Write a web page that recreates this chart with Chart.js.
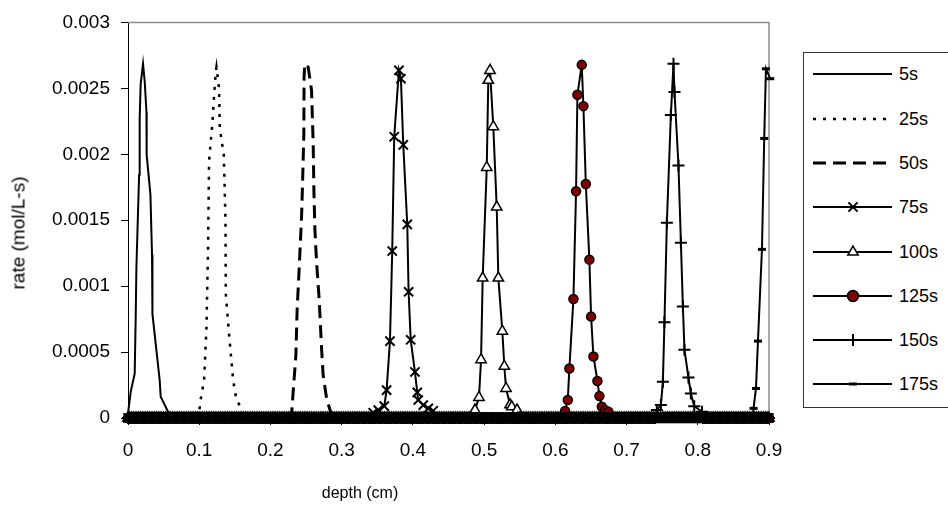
<!DOCTYPE html>
<html>
<head>
<meta charset="utf-8">
<script src="https://cdn.jsdelivr.net/npm/chart.js@4.4.1/dist/chart.umd.min.js"></script>
<style>
  html, body { margin: 0; padding: 0; background: #fff; }
  #wrap { position: relative; width: 948px; height: 506px; overflow: hidden; font-family: "Liberation Sans", Arial, sans-serif; color: #000; }
  #chart { position: absolute; left: 0; top: 0; }
  .axisTitle { position: absolute; white-space: nowrap; line-height: 1; }
  #xTitle { left: 360px; top: 493px; font-size: 16px; transform: translate(-50%, -50%); }
  #yTitle { left: 18px; top: 233px; font-size: 19px; transform: translate(-50%, -50%) rotate(-90deg); }
  #legend { position: absolute; left: 803px; top: 52px; width: 160px; height: 356px; border: 1px solid #333; box-sizing: border-box; background: #fff; }
  .row { position: absolute; left: 0; height: 20px; }
  .row svg { position: absolute; left: 8px; top: 0; }
  .row span { position: absolute; left: 95px; top: 10px; transform: translateY(-50%); font-size: 18px; white-space: nowrap; }
</style>
</head>
<body>
<div id="wrap">
  <canvas id="chart" width="948" height="506"></canvas>
  <div id="xTitle" class="axisTitle">depth (cm)</div>
  <div id="yTitle" class="axisTitle">rate (mol/L-s)</div>
  <div id="legend"></div>
</div>
<script>
// depths (cm) of the mesh; every profile sits on zero there outside its peak
const depthGrid = [
  0, 0.0025, 0.005, 0.0075, 0.01, 0.0125, 0.015, 0.0175, 0.02, 0.0225, 0.025, 0.0275, 0.03, 0.0325, 0.035, 0.0375, 0.04, 0.0425, 0.045, 0.0475,
  0.05, 0.0525, 0.055, 0.0575, 0.06, 0.0625, 0.065, 0.0675, 0.07, 0.0725, 0.075, 0.0775, 0.08, 0.0825, 0.085, 0.0875, 0.09, 0.0925, 0.095, 0.0975,
  0.1, 0.1025, 0.105, 0.1075, 0.11, 0.1125, 0.115, 0.1175, 0.12, 0.1225, 0.125, 0.1275, 0.13, 0.1325, 0.135, 0.1375, 0.14, 0.1425, 0.145, 0.1475,
  0.15, 0.1525, 0.155, 0.1575, 0.16, 0.1625, 0.165, 0.1675, 0.17, 0.1725, 0.175, 0.1775, 0.18, 0.1825, 0.185, 0.1875, 0.19, 0.1925, 0.195, 0.1975,
  0.2, 0.2025, 0.205, 0.2075, 0.21, 0.2125, 0.215, 0.2175, 0.22, 0.2225, 0.225, 0.2275, 0.23, 0.2325, 0.235, 0.2375, 0.24, 0.2425, 0.245, 0.2475,
  0.25, 0.2525, 0.255, 0.2575, 0.26, 0.2625, 0.265, 0.2675, 0.27, 0.2725, 0.275, 0.2775, 0.28, 0.2825, 0.285, 0.2875, 0.29, 0.2925, 0.295, 0.2975,
  0.3, 0.3025, 0.305, 0.3075, 0.31, 0.3125, 0.315, 0.3175, 0.32, 0.3225, 0.325, 0.3275, 0.33, 0.3325, 0.335, 0.3375, 0.34, 0.3425, 0.345, 0.3475,
  0.35, 0.3525, 0.355, 0.3575, 0.36, 0.3625, 0.365, 0.3675, 0.37, 0.3725, 0.375, 0.3775, 0.38, 0.3825, 0.385, 0.3875, 0.39, 0.3925, 0.395, 0.3975,
  0.4, 0.4025, 0.405, 0.4075, 0.41, 0.4125, 0.415, 0.4175, 0.42, 0.4225, 0.425, 0.4275, 0.43, 0.4325, 0.435, 0.4375, 0.44, 0.4425, 0.445, 0.4475,
  0.45, 0.4525, 0.455, 0.4575, 0.46, 0.4625, 0.465, 0.4675, 0.47, 0.4725, 0.475, 0.4775, 0.48, 0.4825, 0.485, 0.4875, 0.49, 0.4925, 0.495, 0.4975,
  0.5, 0.5025, 0.505, 0.5075, 0.51, 0.5125, 0.515, 0.5175, 0.52, 0.5225, 0.525, 0.5275, 0.53, 0.5325, 0.535, 0.5375, 0.54, 0.5425, 0.545, 0.5475,
  0.55, 0.5525, 0.555, 0.5575, 0.56, 0.5625, 0.565, 0.5675, 0.57, 0.5725, 0.575, 0.5775, 0.58, 0.5825, 0.585, 0.5875, 0.59, 0.5925, 0.595, 0.5975,
  0.6, 0.6025, 0.605, 0.6075, 0.61, 0.6125, 0.615, 0.6175, 0.62, 0.6225, 0.625, 0.6275, 0.63, 0.6325, 0.635, 0.6375, 0.64, 0.6425, 0.645, 0.6475,
  0.65, 0.6525, 0.655, 0.6575, 0.66, 0.6625, 0.665, 0.6675, 0.67, 0.6725, 0.675, 0.6775, 0.68, 0.6825, 0.685, 0.6875, 0.69, 0.6925, 0.695, 0.6975,
  0.7, 0.7025, 0.705, 0.7075, 0.71, 0.7125, 0.715, 0.7175, 0.72, 0.7225, 0.725, 0.7275, 0.73, 0.7325, 0.735, 0.7375, 0.74, 0.7425, 0.745, 0.7475,
  0.75, 0.7525, 0.755, 0.7575, 0.76, 0.7625, 0.765, 0.7675, 0.77, 0.7725, 0.775, 0.7775, 0.78, 0.7825, 0.785, 0.7875, 0.79, 0.7925, 0.795, 0.7975,
  0.8, 0.8025, 0.805, 0.8075, 0.81, 0.8125, 0.815, 0.8175, 0.82, 0.8225, 0.825, 0.8275, 0.83, 0.8325, 0.835, 0.8375, 0.84, 0.8425, 0.845, 0.8475,
  0.85, 0.8525, 0.855, 0.8575, 0.86, 0.8625, 0.865, 0.8675, 0.87, 0.8725, 0.875, 0.8775, 0.88, 0.8825, 0.885, 0.8875, 0.89, 0.8925, 0.895, 0.8975,
  0.9
];

// peak of each profile
const depth5s = [0, 0.0038, 0.0094, 0.0108, 0.0118, 0.0156, 0.0164, 0.0178, 0.0211, 0.0235, 0.0259, 0.0262, 0.0315, 0.0337, 0.0343, 0.0399, 0.0445, 0.0459, 0.0563];
const rate5s = [0.000035, 0.000198, 0.000337, 0.000764, 0.00114, 0.001844, 0.002271, 0.002535, 0.002686, 0.002548, 0.002322, 0.001995, 0.001694, 0.001241, 0.000789, 0.000513, 0.000286, 0.000161, 0.000047];

const depth25s = [0.101, 0.1068, 0.1102, 0.1124, 0.1138, 0.1186, 0.1209, 0.1232, 0.1242, 0.1279, 0.1289, 0.1345, 0.1369, 0.1373, 0.1419, 0.1476, 0.1523, 0.1594];
const rate25s = [0.000111, 0.000286, 0.000688, 0.001291, 0.001945, 0.002246, 0.002447, 0.002623, 0.002661, 0.002497, 0.002196, 0.001995, 0.001492, 0.00094, 0.000638, 0.000286, 0.000136, 0.000073];

const depth50s = [0.2296, 0.2357, 0.2375, 0.2403, 0.2437, 0.2451, 0.2469, 0.2472, 0.2483, 0.253, 0.2577, 0.26, 0.261, 0.2624, 0.2648, 0.2684, 0.2718, 0.274, 0.2788, 0.2844];
const rate50s = [0.00003, 0.000475, 0.000827, 0.001128, 0.00153, 0.001781, 0.002158, 0.002585, 0.002686, 0.002661, 0.002485, 0.002083, 0.001731, 0.00143, 0.001178, 0.000902, 0.000525, 0.000324, 0.000148, 0.000047];

const depth75s = [0.3443, 0.3513, 0.3598, 0.3631, 0.3678, 0.371, 0.3738, 0.3804, 0.3832, 0.3865, 0.3921, 0.394, 0.3969, 0.4029, 0.4061, 0.4075, 0.4146, 0.4216, 0.4286];
const rate75s = [0.00004, 0.00006, 0.00009, 0.000211, 0.000583, 0.001266, 0.002133, 0.002636, 0.002573, 0.002071, 0.001468, 0.000957, 0.000593, 0.000349, 0.000194, 0.000136, 0.000098, 0.000073, 0.000055];

const depth100s = [0.4872, 0.4928, 0.4957, 0.498, 0.5037, 0.5059, 0.5083, 0.5129, 0.5177, 0.52, 0.5256, 0.5284, 0.5308, 0.5364, 0.5388, 0.5463];
const rate100s = [0.00006, 0.000156, 0.000442, 0.001061, 0.0019, 0.002561, 0.002636, 0.002209, 0.0016, 0.001061, 0.000658, 0.000392, 0.000224, 0.0001, 0.000085, 0.00006];

const depth125s = [0.6137, 0.6175, 0.6197, 0.6254, 0.6291, 0.631, 0.6371, 0.6394, 0.6428, 0.6478, 0.6502, 0.6535, 0.6591, 0.6619, 0.6653, 0.6699, 0.6745];
const rate125s = [0.000053, 0.000136, 0.000375, 0.000902, 0.001719, 0.002452, 0.002678, 0.002365, 0.001774, 0.001201, 0.000769, 0.000467, 0.000281, 0.000166, 0.000085, 0.00006, 0.000047];

const depth150s = [0.7425, 0.7482, 0.751, 0.7532, 0.7566, 0.7622, 0.7659, 0.7673, 0.7729, 0.7763, 0.7791, 0.7813, 0.7869, 0.7903, 0.795, 0.8058];
const rate150s = [0.00006, 0.000098, 0.000274, 0.000726, 0.00148, 0.002297, 0.002686, 0.002472, 0.001915, 0.001329, 0.000846, 0.000518, 0.000307, 0.000186, 0.00009, 0.000047];

const depth175s = [0.8783, 0.8817, 0.8845, 0.8901, 0.8933, 0.8957, 0.9018, 0.9042];
const rate175s = [0.000073, 0.000224, 0.000583, 0.001279, 0.00212, 0.002648, 0.002573, 0.002075];

const seriesNames = ["5s", "25s", "50s", "75s", "100s", "125s", "150s", "175s"];
const seriesDepths = [depth5s, depth25s, depth50s, depth75s, depth100s, depth125s, depth150s, depth175s];
const seriesRates = [rate5s, rate25s, rate50s, rate75s, rate100s, rate125s, rate150s, rate175s];

const xTickLabels = ["0", "0.1", "0.2", "0.3", "0.4", "0.5", "0.6", "0.7", "0.8", "0.9"];
const yTickLabels = ["0", "0.0005", "0.001", "0.0015", "0.002", "0.0025", "0.003"];

// line and marker look of each series; higher layer is painted first
const looks = [
  { width: 2, dash: [], marker: false, layer: 1 },
  { width: 2.5, dash: [3, 7], marker: false, layer: 2 },
  { width: 3, dash: [13, 7], marker: false, layer: 3 },
  { width: 2, dash: [], marker: "crossRot", r: 6.5, bw: 2, fill: "#000", layer: 4 },
  { width: 2, dash: [], marker: "triangle", r: 6, bw: 1.5, fill: "#fff", layer: 9 },
  { width: 2, dash: [], marker: "circle", r: 4.5, bw: 1.5, fill: "#800000", layer: 8 },
  { width: 2, dash: [], marker: "cross", r: 6, bw: 2, fill: "#000", layer: 5 },
  { width: 2, dash: [], marker: "line", r: 4, bw: 3, fill: "#000", layer: 6 }
];

function buildPoints(depths, rates) {
  const lo = depths[0], hi = depths[depths.length - 1];
  const pts = depthGrid.filter(d => d < lo || d > hi).map(d => ({ x: d, y: 0 }));
  depths.forEach((d, i) => pts.push({ x: d, y: rates[i] }));
  return pts.sort((a, b) => a.x - b.x);
}

const datasets = seriesNames.map((name, i) => {
  const lk = looks[i];
  return {
    label: name,
    data: buildPoints(seriesDepths[i], seriesRates[i]),
    order: lk.layer,
    showLine: true,
    borderColor: "#000",
    borderWidth: lk.width,
    borderDash: lk.dash,
    tension: 0,
    pointStyle: lk.marker || "circle",
    pointRadius: lk.marker ? lk.r : 0,
    pointHoverRadius: lk.marker ? lk.r : 0,
    pointBorderWidth: lk.marker ? lk.bw : 0,
    pointBorderColor: "#000",
    pointBackgroundColor: lk.fill || "#000",
    clip: false
  };
});

const plotFrame = {
  id: "plotFrame",
  beforeDatasetsDraw(chart) {
    const { ctx, chartArea: a } = chart;
    ctx.save();
    ctx.strokeStyle = "#8c8c8c";
    ctx.lineWidth = 1.5;
    ctx.beginPath();
    ctx.moveTo(a.left, a.top);
    ctx.lineTo(a.right, a.top);
    ctx.lineTo(a.right, a.bottom);
    ctx.stroke();
    ctx.restore();
  }
};

Chart.defaults.font.family = '"Liberation Sans", Arial, sans-serif';
Chart.defaults.color = "#000";

new Chart(document.getElementById("chart"), {
  type: "scatter",
  data: { datasets: datasets },
  options: {
    responsive: false,
    animation: false,
    events: [],
    layout: { padding: { left: 0, right: 179, top: 20, bottom: 0 } },
    plugins: { legend: { display: false }, tooltip: { enabled: false } },
    scales: {
      x: {
        type: "linear",
        min: 0,
        max: 0.9,
        afterFit: s => { s.height = 88; },
        ticks: {
          stepSize: 0.1,
          padding: 14,
          font: { size: 19 },
          maxRotation: 0,
          callback: v => xTickLabels[Math.round(v / 0.1)]
        },
        grid: { drawOnChartArea: false, tickLength: 7, color: "#000" },
        border: { color: "#000", width: 1 }
      },
      y: {
        min: 0,
        max: 0.003,
        afterFit: s => { s.width = 128; },
        ticks: {
          stepSize: 0.0005,
          padding: 11,
          font: { size: 19 },
          callback: v => yTickLabels[Math.round(v / 0.0005)]
        },
        grid: { drawOnChartArea: false, tickLength: 7, color: "#000" },
        border: { color: "#000", width: 1 }
      }
    }
  },
  plugins: [plotFrame]
});

// legend box drawn as HTML so its text stays real text
function markerSvg(lk, cx, cy) {
  const r = lk.r;
  if (lk.marker === "crossRot") {
    const d = r * 0.7071;
    return `<path d="M${cx - d} ${cy - d}L${cx + d} ${cy + d}M${cx - d} ${cy + d}L${cx + d} ${cy - d}" stroke="#000" stroke-width="${lk.bw}"/>`;
  }
  if (lk.marker === "triangle") {
    const p = [0, 1, 2].map(k => {
      const a = k * 2 * Math.PI / 3;
      return `${cx + Math.sin(a) * r},${cy - Math.cos(a) * r}`;
    }).join(" ");
    return `<polygon points="${p}" fill="#fff" stroke="#000" stroke-width="${lk.bw}"/>`;
  }
  if (lk.marker === "circle") {
    return `<circle cx="${cx}" cy="${cy}" r="${r + 1}" fill="${lk.fill}" stroke="#000" stroke-width="${lk.bw}"/>`;
  }
  if (lk.marker === "cross") {
    return `<path d="M${cx - r} ${cy}L${cx + r} ${cy}M${cx} ${cy - r}L${cx} ${cy + r}" stroke="#000" stroke-width="${lk.bw}"/>`;
  }
  if (lk.marker === "line") {
    return `<path d="M${cx - r} ${cy}L${cx + r} ${cy}" stroke="#000" stroke-width="${lk.bw}"/>`;
  }
  return "";
}

const legend = document.getElementById("legend");
seriesNames.forEach((name, i) => {
  const lk = looks[i];
  const row = document.createElement("div");
  row.className = "row";
  row.style.top = (11.3 + i * 44.3) + "px";
  row.innerHTML =
    `<svg width="84" height="20" viewBox="0 0 84 20">` +
    `<line x1="1" y1="10" x2="80" y2="10" stroke="#000" stroke-width="${lk.width}" stroke-dasharray="${lk.dash.join(" ")}"/>` +
    markerSvg(lk, 41, 10) +
    `</svg><span>${name}</span>`;
  legend.appendChild(row);
});
</script>
</body>
</html>
